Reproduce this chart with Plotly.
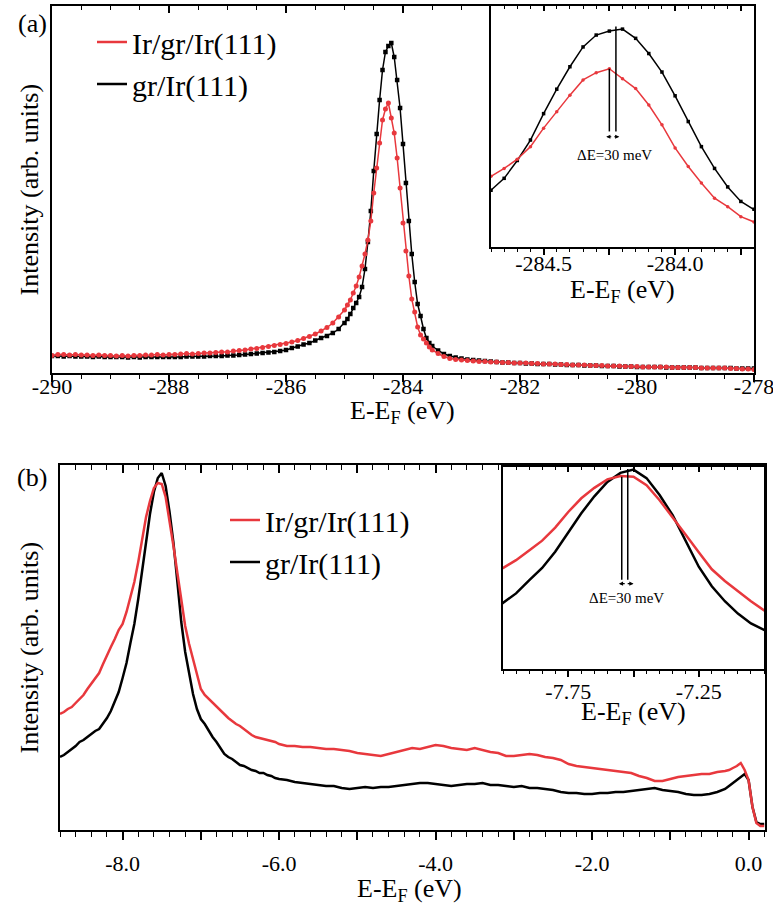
import plotly.graph_objects as go

W, H = 773, 917
RED = '#e8383d'
BLACK = '#000000'
FONT = 'Liberation Serif'


def grid(start, stop, step):
    n = int(round((stop - start) / step)) + 1
    return [round(start + i * step, 3) for i in range(n)]


# ---------------- Panel (a): C 1s core level ----------------
E_a = grid(-290.0, -285.1, 0.1) + grid(-285.0, -283.5, 0.05) + grid(-283.4, -278.0, 0.1)

I_a_ir = [  # Ir/gr/Ir(111)
    17.5, 18.5, 18.5, 18, 18.5, 18, 18, 17.5, 18, 17.5,
    17.5, 17, 17.5, 17, 17.5, 17.5, 18, 18, 18.5, 18,
    18.5, 18.5, 19, 19.5, 19, 19.5, 20, 20, 20.5, 21,
    21, 22, 22.5, 23, 24, 24.5, 25.5, 26.5, 27.5, 28.5,
    29.5, 31, 32.5, 34.5, 36.5, 39, 42, 45.5, 50, 56,
    63, 68, 73, 80, 87, 96, 107, 119, 133, 152,
    180, 205, 230, 253, 264, 270, 255, 240, 215, 185,
    150, 122, 97, 74, 61, 46, 38, 34, 30, 26, 23,
    19.5, 16.5, 14.5, 13.5, 13, 12.5, 12, 11.5, 11.5, 11,
    11, 10.5, 10.5, 10, 10, 10, 9.5, 9.5, 9, 9,
    9, 8.5, 8.5, 8, 8, 8, 7.5, 7.5, 7.5, 7,
    7, 7, 6.5, 6.5, 6.5, 6, 6, 6, 6, 6,
    5.5, 5.5, 5.5, 5.5, 5.5, 5, 5, 5, 5, 5,
    4.5, 4.5, 4, 4, 3.5,
]
I_a_gr = [  # gr/Ir(111)
    17, 17, 16.5, 17, 16.5, 16.5, 16.5, 16, 16.5, 16,
    16, 16, 16, 15.5, 16, 15.5, 16, 16, 16, 16,
    16, 16, 16, 16.5, 16.5, 16.5, 16.5, 17, 17, 17,
    17.5, 17.5, 18, 18.5, 19, 19.5, 20, 20.5, 21, 22,
    23, 25, 26.5, 28.5, 30, 32.5, 35, 37, 40, 44,
    50, 54, 59, 65, 70, 76, 86, 104, 131, 162,
    202, 239, 273, 303, 321, 327, 330, 316, 293, 265,
    229, 190, 152, 119, 91, 69, 57, 44, 35, 30, 27,
    22.5, 19, 17, 15.5, 14.5, 13.5, 13, 12.5, 12, 11.5,
    11, 10.5, 10.5, 10, 10, 9.5, 9.5, 9, 9, 9,
    8.5, 8.5, 8, 8, 8, 7.5, 7.5, 7.5, 7, 7,
    7, 6.5, 6.5, 6.5, 6, 6, 6, 6, 6, 5.5,
    5.5, 5.5, 5.5, 5.5, 5.5, 5, 5, 5, 5, 5,
    5, 4.5, 4.5, 4.5, 4.5,
]
PEAKS_A = [-284.25, -284.225]       # peak positions (Ir/gr/Ir, gr/Ir)
PEAK_TOPS_A = [270, 334]

TICKS_A = [-290, -288, -286, -284, -282, -280, -278]
LABELS_A = ['-290', '-288', '-286', '-284', '-282', '-280', '-278']
TICKS_A_IN = [-284.5, -284.25, -284.0, -283.75]
LABELS_A_IN = ['-284.5', '', '-284.0', '']

# ---------------- Panel (b): valence band ----------------
E_b = grid(-8.80, -6.00, 0.05) + grid(-5.9, -0.3, 0.1) + grid(-0.25, 0.20, 0.05)

I_b_ir = [
    116, 118, 121, 123, 127, 131, 135, 141, 146, 152, 157, 166, 175, 183, 191, 200,
    206, 218, 233, 248, 268, 292, 313, 329, 342, 347, 346, 333, 310, 284, 257, 230,
    204, 186, 170, 155, 141,
    135, 131, 128, 124, 120, 116, 112, 109, 106, 104, 101, 98, 95, 93, 92, 91, 90, 89, 88, 86,
    84, 84, 83, 83, 82, 81, 81, 80, 79, 77, 76, 75, 74, 76, 78, 80, 82, 81, 83, 85,
    84, 82, 81, 80, 82, 80, 78, 77, 74, 74, 75, 76, 75, 73, 72, 70, 66, 64, 63, 62,
    61, 60, 59, 58, 57, 54, 52, 49, 49, 51, 53, 54, 55, 56, 56, 58, 59,
    60, 62, 64, 67, 60, 50, 23, 7, 4, 4,
]
I_b_gr = [
    73, 75, 78, 81, 84, 88, 90, 93, 96, 99, 101, 106, 112, 119, 128, 138,
    152, 167, 187, 206, 231, 261, 290, 316, 338, 352, 357, 344, 318, 287, 248, 208,
    178, 155, 136, 121, 111,
    106, 99, 93, 88, 82, 76, 73, 71, 68, 65, 64, 62, 60, 59, 57, 57, 55, 54, 52, 51,
    50, 48, 47, 46, 45, 44, 44, 42, 41, 42, 43, 42, 43, 43, 44, 45, 46, 47, 47, 46,
    45, 44, 45, 46, 46, 47, 45, 45, 44, 43, 44, 42, 42, 41, 40, 38, 37, 37, 36, 36,
    37, 37, 38, 38, 39, 40, 41, 42, 40, 39, 38, 36, 35, 35, 36, 38, 41,
    44, 47, 50, 53, 56, 50, 23, 8, 6, 6,
]
PEAKS_B = [-7.545, -7.522]
PEAK_TOPS_B = [346, 358]

TICKS_B = [-8, -7, -6, -5, -4, -3, -2, -1, 0]
LABELS_B = ['-8.0', '', '-6.0', '', '-4.0', '', '-2.0', '', '0.0']
TICKS_B_IN = [-7.75, -7.5, -7.25]
LABELS_B_IN = ['-7.75', '', '-7.25']

NAMES = ['Ir/gr/Ir(111)', 'gr/Ir(111)']


def px(p):
    return p / W


def py(p):
    return 1 - p / H


fig = go.Figure()

# panel (a) main
fig.add_trace(go.Scatter(x=E_a, y=I_a_gr, mode='lines+markers', xaxis='x', yaxis='y',
                         line=dict(color=BLACK, width=1.5),
                         marker=dict(symbol='square', size=4.5, color=BLACK), showlegend=False))
fig.add_trace(go.Scatter(x=E_a, y=I_a_ir, mode='lines+markers', xaxis='x', yaxis='y',
                         line=dict(color=RED, width=1.5),
                         marker=dict(symbol='circle', size=5, color=RED), showlegend=False))
# panel (a) inset
fig.add_trace(go.Scatter(x=E_a, y=I_a_gr, mode='lines+markers', xaxis='x2', yaxis='y2',
                         line=dict(color=BLACK, width=1.5),
                         marker=dict(symbol='square', size=3.5, color=BLACK), showlegend=False))
fig.add_trace(go.Scatter(x=E_a, y=I_a_ir, mode='lines+markers', xaxis='x2', yaxis='y2',
                         line=dict(color=RED, width=1.5),
                         marker=dict(symbol='circle', size=3.5, color=RED), showlegend=False))
# panel (b) main
fig.add_trace(go.Scatter(x=E_b, y=I_b_gr, mode='lines', xaxis='x3', yaxis='y3',
                         line=dict(color=BLACK, width=2.5), showlegend=False))
fig.add_trace(go.Scatter(x=E_b, y=I_b_ir, mode='lines', xaxis='x3', yaxis='y3',
                         line=dict(color=RED, width=2.5), showlegend=False))
# panel (b) inset
fig.add_trace(go.Scatter(x=E_b, y=I_b_gr, mode='lines', xaxis='x4', yaxis='y4',
                         line=dict(color=BLACK, width=2.5), showlegend=False))
fig.add_trace(go.Scatter(x=E_b, y=I_b_ir, mode='lines', xaxis='x4', yaxis='y4',
                         line=dict(color=RED, width=2.5), showlegend=False))

# legend entries
for lg, xa, ya in [('legend', 'x', 'y'), ('legend2', 'x3', 'y3')]:
    for name, col in zip(NAMES, [RED, BLACK]):
        fig.add_trace(go.Scatter(x=[None], y=[None], mode='lines', name=name, legend=lg,
                                 xaxis=xa, yaxis=ya, line=dict(color=col, width=2.5),
                                 showlegend=True, hoverinfo='skip'))

# empty traces for top tick overlay axes
for xa, ya in [('x5', 'y'), ('x6', 'y2'), ('x7', 'y3'), ('x8', 'y4')]:
    fig.add_trace(go.Scatter(x=[], y=[], xaxis=xa, yaxis=ya, showlegend=False, hoverinfo='skip'))

tickfont = dict(family=FONT, size=22, color='black')
frame = dict(showline=True, mirror=True, linewidth=2, linecolor='black',
             showgrid=False, zeroline=False, automargin=False)


def xax(dom, anchor, rng, tv, tt, minor_dt, tick0, ticklen=7, minorlen=4, standoff=0):
    return dict(domain=dom, anchor=anchor, range=rng, tickmode='array', tickvals=tv, ticktext=tt,
                ticks='outside', ticklen=ticklen, tickwidth=1.5, tickcolor='black', tickfont=tickfont,
                ticklabeloverflow='allow', ticklabelstandoff=standoff,
                minor=dict(tickmode='linear', tick0=tick0, dtick=minor_dt, ticks='outside',
                           ticklen=minorlen, tickwidth=1.2, tickcolor='black'), **frame)


def topax(over, anchor, dom, rng, tv, minor_dt, tick0, ticklen=7, minorlen=4):
    return dict(overlaying=over, anchor=anchor, side='top', domain=dom, range=rng,
                tickmode='array', tickvals=tv, ticks='inside', ticklen=ticklen, tickwidth=1.5,
                tickcolor='black', showticklabels=False, showline=False, showgrid=False,
                zeroline=False, automargin=False,
                minor=dict(tickmode='linear', tick0=tick0, dtick=minor_dt, ticks='inside',
                           ticklen=minorlen, tickwidth=1.2, tickcolor='black'))


def yax(dom, anchor, rng):
    return dict(domain=dom, anchor=anchor, range=rng, showticklabels=False, ticks='', **frame)


dom_xa = [px(52), px(754)]
dom_ya = [py(373), py(6)]
dom_xai = [px(491), px(754)]
dom_yai = [py(247), py(6)]
dom_xb = [px(60), px(765)]
dom_yb = [py(830), py(465)]
dom_xbi = [px(503), px(764)]
dom_ybi = [py(669), py(467)]

rng_xa = [-290, -278]
rng_xai = [-284.70, -283.70]
rng_xb = [-8.80, 0.21]
rng_xbi = [-8.0, -7.0]

fig.update_layout(
    template='none',
    width=W, height=H, margin=dict(l=0, r=0, t=0, b=0, pad=0), autosize=False,
    paper_bgcolor='white', plot_bgcolor='white',
    font=dict(family=FONT, color='black'),
    xaxis=xax(dom_xa, 'y', rng_xa, TICKS_A, LABELS_A, 0.5, -290, standoff=-14),
    yaxis=yax(dom_ya, 'x', [0, 367]),
    xaxis2=xax(dom_xai, 'y2', rng_xai, TICKS_A_IN, LABELS_A_IN, 0.05, -284.5, ticklen=6, minorlen=3, standoff=-10),
    yaxis2=yax(dom_yai, 'x2', [0, 365]),
    xaxis3=xax(dom_xb, 'y3', rng_xb, TICKS_B, LABELS_B, 0.2, 0, ticklen=8, minorlen=5, standoff=5),
    yaxis3=yax(dom_yb, 'x3', [0, 365]),
    xaxis4=xax(dom_xbi, 'y4', rng_xbi, TICKS_B_IN, LABELS_B_IN, 0.05, -7.5, ticklen=6, minorlen=3, standoff=-4),
    yaxis4=yax(dom_ybi, 'x4', [51, 361]),
    xaxis5=topax('x', 'y', dom_xa, rng_xa, TICKS_A, 0.5, -290),
    xaxis6=topax('x2', 'y2', dom_xai, rng_xai, TICKS_A_IN, 0.05, -284.5, ticklen=5, minorlen=3),
    xaxis7=topax('x3', 'y3', dom_xb, rng_xb, TICKS_B, 0.2, 0, ticklen=8, minorlen=5),
    xaxis8=topax('x4', 'y4', dom_xbi, rng_xbi, TICKS_B_IN, 0.05, -7.5, ticklen=5, minorlen=3),
    legend=dict(x=px(92), y=py(16), xanchor='left', yanchor='top', bgcolor='rgba(0,0,0,0)',
                font=dict(family=FONT, size=30, color='black'), itemwidth=30, tracegroupgap=0),
    legend2=dict(x=px(225), y=py(494), xanchor='left', yanchor='top', bgcolor='rgba(0,0,0,0)',
                 font=dict(family=FONT, size=30, color='black'), itemwidth=30, tracegroupgap=0),
)

ann = []
big = dict(family=FONT, size=26, color='black')
for txt, x, y in [('(a)', 32, 23), ('(b)', 32, 478)]:
    ann.append(dict(text=txt, x=px(x), y=py(y), xref='paper', yref='paper', showarrow=False,
                    xanchor='center', yanchor='middle', font=dict(family=FONT, size=26, color='black')))
for y in [189.5, 647.5]:
    ann.append(dict(text='Intensity (arb. units)', x=px(29), y=py(y), xref='paper', yref='paper',
                    showarrow=False, textangle=-90, xanchor='center', yanchor='middle', font=big))
for x, y in [(403, 412), (622, 291), (633, 713), (410, 890)]:
    ann.append(dict(text='E-E<sub>F</sub> (eV)', x=px(x), y=py(y), xref='paper', yref='paper',
                    showarrow=False, xanchor='center', yanchor='middle', font=big))

small = dict(family=FONT, size=15, color='black')
ann.append(dict(text='ΔE=30 meV', x=-284.232, y=139, xref='x2', yref='y2', showarrow=False,
                xanchor='center', yanchor='middle', font=small))
ann.append(dict(text='ΔE=30 meV', x=-7.526, y=160, xref='x4', yref='y4', showarrow=False,
                xanchor='center', yanchor='middle', font=small))

# double arrows between the peak markers
for (xl, xr, yy, xr_, yr_) in [(-284.262, -284.212, 167, 'x2', 'y2'), (-7.556, -7.500, 182, 'x4', 'y4')]:
    xm = (xl + xr) / 2
    for xe in (xl, xr):
        ann.append(dict(text='', x=xe, y=yy, ax=xm, ay=yy, xref=xr_, yref=yr_, axref=xr_, ayref=yr_,
                        showarrow=True, arrowhead=2, arrowsize=0.7, arrowwidth=1.2, arrowcolor='black',
                        standoff=0, startstandoff=0))
fig.update_layout(annotations=ann)

shapes = []
for xv, top in zip(PEAKS_A, PEAK_TOPS_A):
    shapes.append(dict(type='line', x0=xv, x1=xv, y0=175, y1=top, xref='x2', yref='y2',
                       line=dict(color='black', width=1.5)))
for xv, top in zip(PEAKS_B, PEAK_TOPS_B):
    shapes.append(dict(type='line', x0=xv, x1=xv, y0=188, y1=top, xref='x4', yref='y4',
                       line=dict(color='black', width=1.5)))
fig.update_layout(shapes=shapes)

fig.write_html('out.html')
